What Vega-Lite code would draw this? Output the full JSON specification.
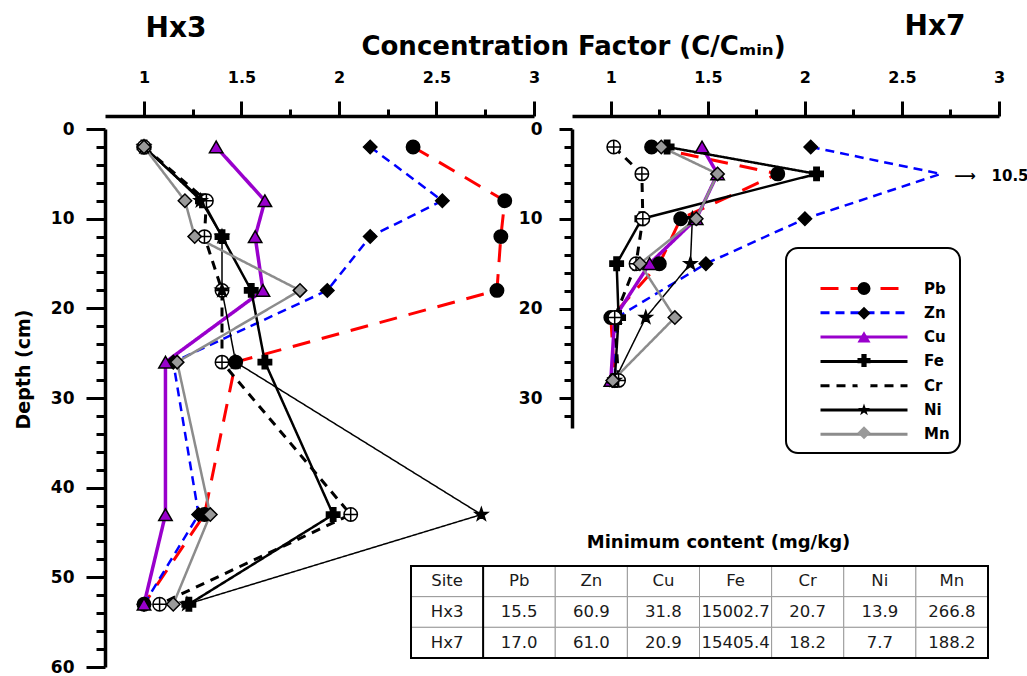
{
  "$schema": "https://vega.github.io/schema/vega-lite/v6.json",
  "background": "white",
  "padding": {"left": 14, "top": 12, "right": 0, "bottom": 0},
  "datasets": {
    "profiles": [
      {"site": "Hx3", "element": "Pb", "depth": 2, "cf": 2.38},
      {"site": "Hx3", "element": "Pb", "depth": 8, "cf": 2.85},
      {"site": "Hx3", "element": "Pb", "depth": 12, "cf": 2.83},
      {"site": "Hx3", "element": "Pb", "depth": 18, "cf": 2.81},
      {"site": "Hx3", "element": "Pb", "depth": 26, "cf": 1.47},
      {"site": "Hx3", "element": "Pb", "depth": 43, "cf": 1.31},
      {"site": "Hx3", "element": "Pb", "depth": 53, "cf": 1.0},
      {"site": "Hx3", "element": "Zn", "depth": 2, "cf": 2.16},
      {"site": "Hx3", "element": "Zn", "depth": 8, "cf": 2.53},
      {"site": "Hx3", "element": "Zn", "depth": 12, "cf": 2.16},
      {"site": "Hx3", "element": "Zn", "depth": 18, "cf": 1.94},
      {"site": "Hx3", "element": "Zn", "depth": 26, "cf": 1.15},
      {"site": "Hx3", "element": "Zn", "depth": 43, "cf": 1.28},
      {"site": "Hx3", "element": "Zn", "depth": 53, "cf": 1.0},
      {"site": "Hx3", "element": "Cu", "depth": 2, "cf": 1.37},
      {"site": "Hx3", "element": "Cu", "depth": 8, "cf": 1.62},
      {"site": "Hx3", "element": "Cu", "depth": 12, "cf": 1.57},
      {"site": "Hx3", "element": "Cu", "depth": 18, "cf": 1.61},
      {"site": "Hx3", "element": "Cu", "depth": 26, "cf": 1.11},
      {"site": "Hx3", "element": "Cu", "depth": 43, "cf": 1.11},
      {"site": "Hx3", "element": "Cu", "depth": 53, "cf": 1.0},
      {"site": "Hx3", "element": "Fe", "depth": 2, "cf": 1.0},
      {"site": "Hx3", "element": "Fe", "depth": 8, "cf": 1.30},
      {"site": "Hx3", "element": "Fe", "depth": 12, "cf": 1.40},
      {"site": "Hx3", "element": "Fe", "depth": 18, "cf": 1.55},
      {"site": "Hx3", "element": "Fe", "depth": 26, "cf": 1.62},
      {"site": "Hx3", "element": "Fe", "depth": 43, "cf": 1.97},
      {"site": "Hx3", "element": "Fe", "depth": 53, "cf": 1.23},
      {"site": "Hx3", "element": "Cr", "depth": 2, "cf": 1.0},
      {"site": "Hx3", "element": "Cr", "depth": 8, "cf": 1.32},
      {"site": "Hx3", "element": "Cr", "depth": 12, "cf": 1.31},
      {"site": "Hx3", "element": "Cr", "depth": 18, "cf": 1.40},
      {"site": "Hx3", "element": "Cr", "depth": 26, "cf": 1.40},
      {"site": "Hx3", "element": "Cr", "depth": 43, "cf": 2.06},
      {"site": "Hx3", "element": "Cr", "depth": 53, "cf": 1.08},
      {"site": "Hx3", "element": "Ni", "depth": 2, "cf": 1.0},
      {"site": "Hx3", "element": "Ni", "depth": 8, "cf": 1.29},
      {"site": "Hx3", "element": "Ni", "depth": 12, "cf": 1.40},
      {"site": "Hx3", "element": "Ni", "depth": 18, "cf": 1.40},
      {"site": "Hx3", "element": "Ni", "depth": 26, "cf": 1.47},
      {"site": "Hx3", "element": "Ni", "depth": 43, "cf": 2.73},
      {"site": "Hx3", "element": "Ni", "depth": 53, "cf": 1.22},
      {"site": "Hx3", "element": "Mn", "depth": 2, "cf": 1.0},
      {"site": "Hx3", "element": "Mn", "depth": 8, "cf": 1.21},
      {"site": "Hx3", "element": "Mn", "depth": 12, "cf": 1.26},
      {"site": "Hx3", "element": "Mn", "depth": 18, "cf": 1.80},
      {"site": "Hx3", "element": "Mn", "depth": 26, "cf": 1.17},
      {"site": "Hx3", "element": "Mn", "depth": 43, "cf": 1.34},
      {"site": "Hx3", "element": "Mn", "depth": 53, "cf": 1.15},
      {"site": "Hx7", "element": "Pb", "depth": 2, "cf": 1.21},
      {"site": "Hx7", "element": "Pb", "depth": 5, "cf": 1.86},
      {"site": "Hx7", "element": "Pb", "depth": 10, "cf": 1.36},
      {"site": "Hx7", "element": "Pb", "depth": 15, "cf": 1.25},
      {"site": "Hx7", "element": "Pb", "depth": 21, "cf": 1.0},
      {"site": "Hx7", "element": "Pb", "depth": 28, "cf": 1.02},
      {"site": "Hx7", "element": "Zn", "depth": 2, "cf": 2.03},
      {"site": "Hx7", "element": "Zn", "depth": 5, "cf": 10.5},
      {"site": "Hx7", "element": "Zn", "depth": 10, "cf": 2.0},
      {"site": "Hx7", "element": "Zn", "depth": 15, "cf": 1.49},
      {"site": "Hx7", "element": "Zn", "depth": 21, "cf": 1.03},
      {"site": "Hx7", "element": "Zn", "depth": 28, "cf": 1.02},
      {"site": "Hx7", "element": "Cu", "depth": 2, "cf": 1.47},
      {"site": "Hx7", "element": "Cu", "depth": 5, "cf": 1.55},
      {"site": "Hx7", "element": "Cu", "depth": 10, "cf": 1.44},
      {"site": "Hx7", "element": "Cu", "depth": 15, "cf": 1.20},
      {"site": "Hx7", "element": "Cu", "depth": 21, "cf": 1.02},
      {"site": "Hx7", "element": "Cu", "depth": 28, "cf": 1.0},
      {"site": "Hx7", "element": "Fe", "depth": 2, "cf": 1.29},
      {"site": "Hx7", "element": "Fe", "depth": 5, "cf": 2.06},
      {"site": "Hx7", "element": "Fe", "depth": 10, "cf": 1.16},
      {"site": "Hx7", "element": "Fe", "depth": 15, "cf": 1.03},
      {"site": "Hx7", "element": "Fe", "depth": 21, "cf": 1.04},
      {"site": "Hx7", "element": "Fe", "depth": 28, "cf": 1.02},
      {"site": "Hx7", "element": "Cr", "depth": 2, "cf": 1.015},
      {"site": "Hx7", "element": "Cr", "depth": 5, "cf": 1.16},
      {"site": "Hx7", "element": "Cr", "depth": 10, "cf": 1.165},
      {"site": "Hx7", "element": "Cr", "depth": 15, "cf": 1.13},
      {"site": "Hx7", "element": "Cr", "depth": 21, "cf": 1.02},
      {"site": "Hx7", "element": "Cr", "depth": 28, "cf": 1.04},
      {"site": "Hx7", "element": "Ni", "depth": 10, "cf": 1.42},
      {"site": "Hx7", "element": "Ni", "depth": 15, "cf": 1.41},
      {"site": "Hx7", "element": "Ni", "depth": 21, "cf": 1.18},
      {"site": "Hx7", "element": "Ni", "depth": 28, "cf": 1.02},
      {"site": "Hx7", "element": "Mn", "depth": 2, "cf": 1.26},
      {"site": "Hx7", "element": "Mn", "depth": 5, "cf": 1.55},
      {"site": "Hx7", "element": "Mn", "depth": 10, "cf": 1.44},
      {"site": "Hx7", "element": "Mn", "depth": 15, "cf": 1.15},
      {"site": "Hx7", "element": "Mn", "depth": 21, "cf": 1.33},
      {"site": "Hx7", "element": "Mn", "depth": 28, "cf": 1.01}
    ],
    "minimum": [
      {"row": "Site", "col": "Site", "value": "Site"},
      {"row": "Site", "col": "Pb", "value": "Pb"},
      {"row": "Site", "col": "Zn", "value": "Zn"},
      {"row": "Site", "col": "Cu", "value": "Cu"},
      {"row": "Site", "col": "Fe", "value": "Fe"},
      {"row": "Site", "col": "Cr", "value": "Cr"},
      {"row": "Site", "col": "Ni", "value": "Ni"},
      {"row": "Site", "col": "Mn", "value": "Mn"},
      {"row": "Hx3", "col": "Site", "value": "Hx3"},
      {"row": "Hx3", "col": "Pb", "value": "15.5"},
      {"row": "Hx3", "col": "Zn", "value": "60.9"},
      {"row": "Hx3", "col": "Cu", "value": "31.8"},
      {"row": "Hx3", "col": "Fe", "value": "15002.7"},
      {"row": "Hx3", "col": "Cr", "value": "20.7"},
      {"row": "Hx3", "col": "Ni", "value": "13.9"},
      {"row": "Hx3", "col": "Mn", "value": "266.8"},
      {"row": "Hx7", "col": "Site", "value": "Hx7"},
      {"row": "Hx7", "col": "Pb", "value": "17.0"},
      {"row": "Hx7", "col": "Zn", "value": "61.0"},
      {"row": "Hx7", "col": "Cu", "value": "20.9"},
      {"row": "Hx7", "col": "Fe", "value": "15405.4"},
      {"row": "Hx7", "col": "Cr", "value": "18.2"},
      {"row": "Hx7", "col": "Ni", "value": "7.7"},
      {"row": "Hx7", "col": "Mn", "value": "188.2"}
    ]
  },
  "config": {
    "font": "DejaVu Sans",
    "view": {"stroke": null},
    "axis": {"grid": false, "domainColor": "black", "tickColor": "black", "labelColor": "black", "titleColor": "black", "labelFont": "DejaVu Sans", "titleFont": "DejaVu Sans", "labelFontWeight": "bold", "titleFontWeight": "bold", "labelFlush": false, "labelOverlap": false}
  },
  "spacing": 38,
  "bounds": "flush",
  "hconcat": [
    {
      "width": 429,
      "height": 538,
      "resolve": {"scale": {"x": "independent", "y": "independent"}},
      "layer": [
        {
          "data": {"name": "profiles"},
          "transform": [{"filter": "datum.site === 'Hx3'"}],
          "mark": {"type": "line"},
          "encoding": {
            "x": {"field": "cf", "type": "quantitative", "scale": {"domain": [0.8, 3], "nice": false, "zero": false},
                  "axis": {"orient": "top", "offset": 13, "values": [1, 1.5, 2, 2.5, 3], "format": "~g", "domainWidth": 3.5, "tickWidth": 3, "tickSize": 15, "labelFontSize": 16, "labelPadding": 16,
                           "title": "Concentration Factor (C/Cₘᵢₙ)", "titleFontSize": 26, "titleX": 468, "titleY": -62, "titleAlign": "center", "titleBaseline": "alphabetic"}},
            "y": {"field": "depth", "type": "quantitative", "scale": {"domain": [0, 60], "reverse": true, "nice": false, "zero": false},
                  "axis": {"orient": "left", "values": [0, 10, 20, 30, 40, 50, 60], "format": "d", "domainWidth": 3.5, "tickWidth": 3, "tickSize": 19, "labelFontSize": 17, "labelPadding": 12,
                           "title": "Depth (cm)", "titleFontSize": 19, "titleAngle": 270, "titleX": -82, "titleY": 240, "titleAlign": "center", "titleBaseline": "middle"}},
            "color": {"field": "element", "type": "nominal",
                      "scale": {"domain": ["Pb", "Zn", "Cu", "Fe", "Cr", "Ni", "Mn"], "range": ["#FF0000", "#0000FF", "#9900CC", "#000000", "#000000", "#000000", "#8C8C8C"]},
                      "legend": {"orient": "none", "legendX": 681, "legendY": 119, "title": " ", "titleFontSize": 8, "titlePadding": 15, "padding": 10, "strokeColor": "black", "cornerRadius": 12, "fillColor": "white",
                                 "symbolType": "M-8.7,0L8.7,0", "symbolSize": 100, "symbolOffset": 60.5, "symbolStrokeWidth": 3, "labelOffset": 52.5, "labelFontSize": 15, "labelFontWeight": "bold", "labelColor": "black", "rowPadding": 8.3,
                                 "encode": {"legend": {"update": {"strokeWidth": {"value": 2}}}}}},
            "strokeDash": {"field": "element", "type": "nominal",
                           "scale": {"domain": ["Pb", "Zn", "Cu", "Fe", "Cr", "Ni", "Mn"], "range": [[18, 12], [9, 6], [1, 0], [1, 0], [9, 7], [1, 0], [1, 0]]},
                           "legend": {"orient": "none", "legendX": 681, "legendY": 119, "title": " ", "titleFontSize": 8, "titlePadding": 15, "padding": 10, "strokeColor": "black", "cornerRadius": 12, "fillColor": "white",
                                 "symbolType": "M-8.7,0L8.7,0", "symbolSize": 100, "symbolOffset": 60.5, "symbolStrokeWidth": 3, "labelOffset": 52.5, "labelFontSize": 15, "labelFontWeight": "bold", "labelColor": "black", "rowPadding": 8.3,
                                 "encode": {"legend": {"update": {"strokeWidth": {"value": 2}}}}}},
            "strokeWidth": {"condition": [{"test": "datum.element === 'Ni'", "value": 1.5}, {"test": "datum.element === 'Cu'", "value": 3.5}, {"test": "datum.element === 'Pb' || datum.element === 'Cr'", "value": 3}], "value": 2.5},
            "order": {"field": "depth", "type": "quantitative"}
          }
        },
        {
          "data": {"name": "profiles"},
          "transform": [{"filter": "datum.site === 'Hx3'"}],
          "mark": {"type": "point", "filled": true, "size": 180, "stroke": "black", "strokeWidth": 1.5, "opacity": 1},
          "encoding": {
            "x": {"field": "cf", "type": "quantitative", "scale": {"domain": [0.8, 3], "nice": false, "zero": false},
                  "axis": {"orient": "top", "offset": 13, "values": [1.25, 1.75, 2.25, 2.75], "domain": false, "labels": false, "tickWidth": 3, "tickSize": 7,
                           "title": "Hx3", "titleFontSize": 28, "titleX": 40, "titleY": -80, "titleAlign": "left", "titleBaseline": "alphabetic"}},
            "y": {"field": "depth", "type": "quantitative", "scale": {"domain": [0, 60], "reverse": true, "nice": false, "zero": false},
                  "axis": {"orient": "left", "values": [2, 4, 6, 8, 12, 14, 16, 18, 22, 24, 26, 28, 32, 34, 36, 38, 42, 44, 46, 48, 52, 54, 56, 58], "domain": false, "labels": false, "tickWidth": 3, "tickSize": 9, "title": null}},
            "shape": {"field": "element", "type": "nominal",
                      "scale": {"domain": ["Pb", "Zn", "Cu", "Fe", "Cr", "Ni", "Mn", "-"], "range": ["circle", "diamond", "triangle-up", "cross", "M-1,0A1,1,0,1,0,1,0A1,1,0,1,0,-1,0ZM-1,0L1,0M0,-1L0,1", "M0,-1L0.235,-0.324L0.951,-0.309L0.38,0.124L0.588,0.809L0,0.4L-0.588,0.809L-0.38,0.124L-0.951,-0.309L-0.235,-0.324Z", "diamond", "circle"]},
                      "legend": {"values": ["Pb", "Zn", "Cu", "Fe", "Cr", "Ni", "Mn"], "orient": "none", "legendX": 681, "legendY": 119, "title": " ", "titleFontSize": 8, "titlePadding": 15, "padding": 10,
                                 "symbolSize": 170, "symbolOffset": 60.5, "symbolStrokeColor": "black", "symbolStrokeWidth": 1.5, "labelOffset": 52.5, "labelFontSize": 15, "labelFontWeight": "bold", "labelExpr": "''", "rowPadding": 3.7}},
            "fill": {"field": "element", "type": "nominal",
                     "scale": {"domain": ["Pb", "Zn", "Cu", "Fe", "Cr", "Ni", "Mn", "-"], "range": ["#000000", "#000000", "#9900CC", "#000000", "#FFFFFF", "#000000", "#9A9A9A", "#000000"]},
                     "legend": {"values": ["Pb", "Zn", "Cu", "Fe", "Cr", "Ni", "Mn"], "orient": "none", "legendX": 681, "legendY": 119, "title": " ", "titleFontSize": 8, "titlePadding": 15, "padding": 10,
                                 "symbolSize": 170, "symbolOffset": 60.5, "symbolStrokeColor": "black", "symbolStrokeWidth": 1.5, "labelOffset": 52.5, "labelFontSize": 15, "labelFontWeight": "bold", "labelExpr": "''", "rowPadding": 3.7}}
          }
        },
        {
          "data": {"name": "minimum"},
          "encoding": {
            "x": {"field": "col", "type": "nominal", "sort": ["Site", "Pb", "Zn", "Cu", "Fe", "Cr", "Ni", "Mn"], "scale": {"range": [306, 883], "paddingInner": 0, "paddingOuter": 0},
                  "axis": {"orient": "top", "offset": 0, "domain": false, "ticks": false, "labels": false, "title": "Minimum content (mg/kg)", "titleFontSize": 18, "titleX": 613, "titleY": 418, "titleAlign": "center", "titleBaseline": "alphabetic"}},
            "y": {"field": "row", "type": "nominal", "sort": ["Site", "Hx3", "Hx7"], "scale": {"range": [437, 529], "paddingInner": 0, "paddingOuter": 0}, "axis": null}
          },
          "layer": [
            {
              "mark": {"type": "rect", "fill": "white", "stroke": "#9A9A9A", "strokeWidth": 1}
            },
            {
              "mark": {"type": "text", "fontSize": 16.5, "color": "#1a1a1a", "font": "DejaVu Sans"},
              "encoding": {
                "text": {"field": "value"},
                "fontWeight": {"condition": {"test": "(datum.row === 'Site') !== (datum.col === 'Site')", "value": "bold"}, "value": "normal"}
              }
            },
            {
              "data": {"values": [{"part": "frame"}]},
              "mark": {"type": "rect", "fill": null, "stroke": "black", "strokeWidth": 2},
              "encoding": {
                "x": {"datum": "Site", "bandPosition": 0},
                "x2": {"datum": "Mn", "bandPosition": 1},
                "y": {"datum": "Site", "bandPosition": 0},
                "y2": {"datum": "Hx7", "bandPosition": 1}
              }
            },
            {
              "data": {"values": [{"part": "divider"}]},
              "mark": {"type": "rect", "fill": null, "stroke": "black", "strokeWidth": 2},
              "encoding": {
                "x": {"datum": "Site", "bandPosition": 0},
                "x2": {"datum": "Site", "bandPosition": 1},
                "y": {"datum": "Site", "bandPosition": 0},
                "y2": {"datum": "Hx7", "bandPosition": 1}
              }
            }
          ]
        }
      ]
    },
    {
      "width": 427,
      "height": 299,
      "resolve": {"scale": {"x": "independent", "y": "independent"}},
      "layer": [
        {
          "data": {"name": "profiles"},
          "transform": [{"filter": "datum.site === 'Hx7'"}],
          "encoding": {
            "x": {"field": "cf", "type": "quantitative", "scale": {"domain": [0.8, 2.7], "range": [0, 368.77], "clamp": true, "nice": false, "zero": false}, "axis": null},
            "y": {"field": "depth", "type": "quantitative", "scale": {"domain": [0, 33.3], "reverse": true, "nice": false, "zero": false}, "axis": null}
          },
          "layer": [
            {
              "mark": {"type": "line"},
              "encoding": {
                "color": {"field": "element", "type": "nominal",
                          "scale": {"domain": ["Pb", "Zn", "Cu", "Fe", "Cr", "Ni", "Mn"], "range": ["#FF0000", "#0000FF", "#9900CC", "#000000", "#000000", "#000000", "#8C8C8C"]},
                          "legend": {"orient": "none", "legendX": 681, "legendY": 119, "title": " ", "titleFontSize": 8, "titlePadding": 15, "padding": 10, "strokeColor": "black", "cornerRadius": 12, "fillColor": "white",
                                 "symbolType": "M-8.7,0L8.7,0", "symbolSize": 100, "symbolOffset": 60.5, "symbolStrokeWidth": 3, "labelOffset": 52.5, "labelFontSize": 15, "labelFontWeight": "bold", "labelColor": "black", "rowPadding": 8.3,
                                 "encode": {"legend": {"update": {"strokeWidth": {"value": 2}}}}}},
                "strokeDash": {"field": "element", "type": "nominal",
                               "scale": {"domain": ["Pb", "Zn", "Cu", "Fe", "Cr", "Ni", "Mn"], "range": [[18, 12], [9, 6], [1, 0], [1, 0], [9, 7], [1, 0], [1, 0]]},
                               "legend": {"orient": "none", "legendX": 681, "legendY": 119, "title": " ", "titleFontSize": 8, "titlePadding": 15, "padding": 10, "strokeColor": "black", "cornerRadius": 12, "fillColor": "white",
                                 "symbolType": "M-8.7,0L8.7,0", "symbolSize": 100, "symbolOffset": 60.5, "symbolStrokeWidth": 3, "labelOffset": 52.5, "labelFontSize": 15, "labelFontWeight": "bold", "labelColor": "black", "rowPadding": 8.3,
                                 "encode": {"legend": {"update": {"strokeWidth": {"value": 2}}}}}},
                "strokeWidth": {"condition": [{"test": "datum.element === 'Ni'", "value": 1.5}, {"test": "datum.element === 'Cu'", "value": 3.5}, {"test": "datum.element === 'Pb' || datum.element === 'Cr'", "value": 3}], "value": 2.5},
                "order": {"field": "depth", "type": "quantitative"}
              }
            },
            {
              "transform": [{"filter": "datum.cf <= 3"}],
              "mark": {"type": "point", "filled": true, "size": 180, "stroke": "black", "strokeWidth": 1.5, "opacity": 1},
              "encoding": {
                "shape": {"field": "element", "type": "nominal",
                          "scale": {"domain": ["Pb", "Zn", "Cu", "Fe", "Cr", "Ni", "Mn", "-"], "range": ["circle", "diamond", "triangle-up", "cross", "M-1,0A1,1,0,1,0,1,0A1,1,0,1,0,-1,0ZM-1,0L1,0M0,-1L0,1", "M0,-1L0.235,-0.324L0.951,-0.309L0.38,0.124L0.588,0.809L0,0.4L-0.588,0.809L-0.38,0.124L-0.951,-0.309L-0.235,-0.324Z", "diamond", "circle"]},
                          "legend": {"values": ["Pb", "Zn", "Cu", "Fe", "Cr", "Ni", "Mn"], "orient": "none", "legendX": 681, "legendY": 119, "title": " ", "titleFontSize": 8, "titlePadding": 15, "padding": 10,
                                 "symbolSize": 170, "symbolOffset": 60.5, "symbolStrokeColor": "black", "symbolStrokeWidth": 1.5, "labelOffset": 52.5, "labelFontSize": 15, "labelFontWeight": "bold", "labelExpr": "''", "rowPadding": 3.7}},
                "fill": {"field": "element", "type": "nominal",
                         "scale": {"domain": ["Pb", "Zn", "Cu", "Fe", "Cr", "Ni", "Mn", "-"], "range": ["#000000", "#000000", "#9900CC", "#000000", "#FFFFFF", "#000000", "#9A9A9A", "#000000"]},
                         "legend": {"values": ["Pb", "Zn", "Cu", "Fe", "Cr", "Ni", "Mn"], "orient": "none", "legendX": 681, "legendY": 119, "title": " ", "titleFontSize": 8, "titlePadding": 15, "padding": 10,
                                 "symbolSize": 170, "symbolOffset": 60.5, "symbolStrokeColor": "black", "symbolStrokeWidth": 1.5, "labelOffset": 52.5, "labelFontSize": 15, "labelFontWeight": "bold", "labelExpr": "''", "rowPadding": 3.7}}
              }
            }
          ]
        },
        {
          "data": {"values": [{"note": "⟶\u00a0\u00a0\u00a010.5"}]},
          "mark": {"type": "text", "align": "left", "baseline": "middle", "fontSize": 15, "fontWeight": "bold", "color": "black"},
          "encoding": {
            "x": {"datum": 2.77, "type": "quantitative", "scale": {"domain": [0.8, 3], "nice": false, "zero": false},
                  "axis": {"orient": "top", "offset": 13, "values": [1, 1.5, 2, 2.5, 3], "format": "~g", "domainWidth": 3.5, "tickWidth": 3, "tickSize": 15, "labelFontSize": 16, "labelPadding": 16, "title": null}},
            "y": {"datum": 5.2, "type": "quantitative", "scale": {"domain": [0, 33.3], "reverse": true, "nice": false, "zero": false},
                  "axis": {"orient": "left", "values": [0, 10, 20, 30], "format": "d", "domainWidth": 3.5, "tickWidth": 3, "tickSize": 13, "labelFontSize": 17, "labelPadding": 17, "title": null}},
            "text": {"field": "note"}
          }
        },
        {
          "data": {"values": [{"note": "⟶\u00a0\u00a0\u00a010.5"}]},
          "mark": {"type": "point", "opacity": 0},
          "encoding": {
            "x": {"datum": 2.77, "type": "quantitative", "scale": {"domain": [0.8, 3], "nice": false, "zero": false},
                  "axis": {"orient": "top", "offset": 13, "values": [1.25, 1.75, 2.25, 2.75], "domain": false, "labels": false, "tickWidth": 3, "tickSize": 7,
                           "title": "Hx7", "titleFontSize": 28, "titleX": 332, "titleY": -82, "titleAlign": "left", "titleBaseline": "alphabetic"}},
            "y": {"datum": 5.2, "type": "quantitative", "scale": {"domain": [0, 33.3], "reverse": true, "nice": false, "zero": false},
                  "axis": {"orient": "left", "values": [2, 4, 6, 8, 12, 14, 16, 18, 22, 24, 26, 28, 32], "domain": false, "labels": false, "tickWidth": 3, "tickSize": 8, "title": null}}
          }
        }
      ]
    }
  ]
}
